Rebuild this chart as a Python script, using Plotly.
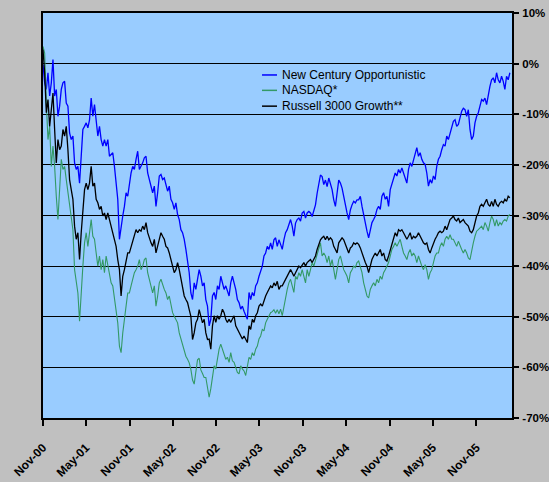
import plotly.graph_objects as go
import pandas as pd

start_date = "2000-11-01"

new_century = [
    -0.2, -3.8, -5.1, -1.8, -6.4, -3.8, 0.8, -6.4, -5.1, -10.4,
    -8.4, -5.1, -3.8, -3.5, -7.8, -8.4, -13.7, -15.0, -14.3, -19.6,
    -20.9, -20.3, -23.6, -17.6, -13.0, -12.4, -11.7, -12.7, -11.1, -6.8,
    -10.4, -8.1, -11.1, -14.3, -12.4, -15.0, -16.3, -15.0, -16.3, -15.0,
    -18.3, -18.0, -17.6, -20.3, -24.2, -26.8, -34.7, -32.1, -30.1, -28.2,
    -25.5, -26.2, -23.6, -21.6, -20.3, -20.9, -18.9, -17.3, -20.9, -20.3,
    -19.6, -18.6, -18.3, -21.6, -22.9, -24.2, -25.5, -24.2, -28.2, -25.5,
    -22.2, -21.9, -22.9, -22.6, -24.2, -25.2, -24.2, -26.8, -27.5, -28.8,
    -27.5, -29.8, -30.8, -32.8, -33.4, -34.7, -36.7, -39.0, -41.3, -45.3,
    -46.6, -43.3, -44.6, -42.6, -40.7, -42.0, -43.9, -43.3, -46.6, -47.9,
    -51.8, -50.5, -45.9, -45.2, -46.6, -43.9, -44.6, -42.0, -43.3, -44.6,
    -43.9, -45.2, -45.9, -43.3, -42.0, -43.3, -44.6, -46.6, -47.2, -48.5,
    -47.9, -48.9, -49.8, -50.5, -45.2, -46.6, -45.2, -45.9, -43.9, -43.3,
    -42.0, -40.7, -40.0, -38.0, -37.4, -36.1, -36.7, -35.4, -36.7, -34.8,
    -34.4, -36.1, -34.8, -35.7, -36.7, -34.8, -33.4, -32.8, -31.5, -30.8,
    -32.1, -34.1, -31.5, -30.8, -30.5, -31.1, -29.5, -29.2, -30.5, -29.5,
    -29.2, -29.5, -30.2, -28.9, -27.9, -25.6, -23.6, -22.0, -22.3, -23.9,
    -23.0, -24.3, -22.6, -23.6, -24.9, -26.9, -28.2, -25.6, -23.0, -23.6,
    -24.6, -26.2, -28.2, -29.5, -30.8, -28.9, -27.9, -27.2, -27.5, -26.9,
    -26.9,
    -26.2, -28.2, -30.1, -31.4, -33.1, -34.4, -32.8, -31.4, -30.8, -30.1,
    -28.8, -28.2, -28.8, -26.2, -25.5, -26.8, -26.2, -28.2, -24.9, -23.6,
    -22.9, -21.6, -22.2, -20.9, -21.6, -20.6, -21.6, -22.9, -23.6, -20.9,
    -19.6, -20.3, -18.9, -17.6, -16.6, -18.3, -17.6, -18.9, -19.6, -19.9,
    -21.6, -24.2, -22.9, -23.6, -22.2, -22.9, -20.3, -18.9, -18.3, -17.0,
    -16.0, -16.3, -14.3, -15.0, -13.7, -12.4, -11.4, -11.1, -12.4, -12.0,
    -10.4, -9.4, -8.8, -9.1, -10.4, -9.1, -13.0, -15.0, -14.3, -11.7,
    -10.4, -9.7, -8.4, -7.1, -7.4, -6.8, -8.1, -5.8, -4.5, -3.2,
    -2.8, -3.8, -1.8, -3.2, -3.8, -2.5, -3.5, -5.1, -2.5, -3.2,
    -1.8,
]

nasdaq = [
    3.4, 2.1, -7.8, -15.0, -12.4, -20.3, -16.3, -20.3, -26.2, -30.8,
    -24.9, -18.9, -20.9, -20.3, -22.9, -25.5, -28.2, -30.8, -32.8, -40.7,
    -42.6, -45.3, -50.9, -44.6, -40.0, -35.4, -33.4, -36.1, -32.8, -30.8,
    -34.1, -34.7, -37.4, -40.0, -38.0, -40.7, -38.7, -41.3, -38.0, -40.0,
    -41.3, -43.3, -43.9, -46.6, -49.2, -51.2, -55.8, -57.1, -53.2, -49.9,
    -47.9, -45.3, -45.3, -43.9, -42.6, -41.3, -40.7, -40.0, -38.7, -40.7,
    -40.0, -38.7, -38.4, -41.3, -42.6, -43.9, -45.3, -43.9, -47.9, -45.9,
    -43.3, -42.6, -43.9, -44.6, -45.3, -46.6, -45.9, -47.9, -49.2, -49.9,
    -50.5, -51.2, -53.2, -54.5, -55.8, -57.1, -57.8, -58.4, -59.1, -60.4,
    -62.5, -63.3, -60.5, -58.5, -58.2, -60.5, -61.2, -62.0, -62.0, -64.0,
    -65.9, -64.2, -61.6, -59.7, -60.3, -58.4, -56.4, -55.4, -56.4, -57.7,
    -58.4, -58.0, -59.0, -57.1, -58.7, -59.0, -60.3, -61.0, -61.3, -59.7,
    -60.3, -60.7, -61.6, -59.7, -58.0, -58.4, -57.1, -57.7, -56.4, -55.8,
    -54.4, -53.8, -52.5, -52.8, -51.2, -50.5, -49.9, -49.2, -49.0, -48.6,
    -49.3, -48.6, -49.4,
    -48.5, -49.8, -47.9, -45.9, -44.6, -43.3, -42.6, -43.9, -45.2, -42.0,
    -42.6, -41.3, -42.0, -40.7, -42.0, -43.3, -40.7, -42.0, -40.7, -39.3,
    -40.0, -38.7, -37.4, -36.1, -35.4, -38.0, -37.4, -38.0, -39.3, -38.0,
    -40.0, -38.7, -40.7, -42.6, -40.7, -38.7, -38.0, -39.3, -40.7, -41.3,
    -42.0, -43.3, -41.3, -40.7, -40.0, -40.3, -39.3, -39.0,
    -40.0, -41.3, -43.3, -44.6, -45.9, -46.3, -44.6, -43.9, -43.3, -43.9,
    -42.6, -43.3, -42.0, -42.6, -41.3, -40.7, -40.0, -39.3, -38.0, -36.7,
    -36.1, -35.4, -36.1, -35.4, -34.7, -36.1, -37.4, -38.0, -38.7, -37.4,
    -36.7, -38.0, -37.4, -38.0, -39.3, -38.0, -39.3, -40.0, -40.7, -39.7,
    -40.7, -42.6, -41.3, -40.7, -39.3, -38.0, -37.4, -37.4, -36.1, -35.4,
    -36.1, -34.7, -34.1, -34.7, -33.8, -34.7, -34.7, -35.4, -36.1, -35.1,
    -36.1, -36.7, -37.4, -36.7, -37.4, -38.4, -38.7, -36.7, -35.4, -34.1,
    -33.1, -32.8, -32.4, -32.1, -32.8, -31.4, -32.1, -33.1, -31.4, -30.1,
    -30.8, -32.1, -30.8, -32.1, -31.4, -31.8, -31.1, -30.8, -31.1, -30.1,
    -29.8,
]

russell = [
    2.8, -1.8, -9.7, -7.1, -12.4, -8.4, -5.8, -13.0, -19.6, -15.0,
    -17.0, -16.3, -13.0, -14.3, -12.4, -17.0, -22.9, -24.9, -26.8, -32.1,
    -34.7, -33.4, -38.7, -33.4, -28.2, -24.9, -23.6, -24.9, -23.6, -20.3,
    -24.2, -23.6, -26.8, -27.5, -28.8, -28.2, -30.1, -29.5, -30.8, -29.5,
    -30.8, -32.1, -33.4, -34.7, -36.1, -38.7, -40.7, -45.9, -42.0, -40.7,
    -38.7, -37.4, -37.4, -36.1, -35.4, -34.1, -32.8, -33.4, -32.8, -33.1,
    -32.1, -32.8, -31.4, -33.4, -34.7, -35.4, -36.1, -34.7, -37.4, -36.1,
    -34.7, -33.4, -34.1, -34.7, -36.1, -36.4, -37.4, -38.7, -40.0, -41.3,
    -40.7, -39.3, -40.7, -42.6, -43.9, -45.9, -46.6, -47.2, -48.6, -49.9,
    -54.5, -53.2, -51.2, -50.5, -48.6, -49.9, -51.2, -50.5, -53.2, -54.5,
    -54.4, -56.4, -51.8, -49.8, -51.1, -49.8, -50.5, -49.8, -48.5, -49.2,
    -50.5, -51.1, -50.5, -51.1, -50.5, -49.8, -51.8, -52.5, -53.1, -53.8,
    -54.4, -53.8, -54.4, -55.1, -51.8, -52.5, -50.5, -51.1, -49.8, -49.2,
    -47.9, -47.5, -47.9, -46.6, -45.9, -45.2, -44.6, -43.9, -44.3, -43.3,
    -43.9, -43.0, -44.6, -43.9, -43.9, -43.3, -42.6, -42.0, -41.3, -40.7,
    -41.3, -42.0, -41.3, -40.7, -40.0, -40.3, -39.7, -39.3, -40.0, -39.3,
    -39.0, -38.7, -39.3, -38.7, -38.0, -36.7, -35.7, -34.8, -34.4, -34.1,
    -34.8, -34.1, -34.8, -34.4, -34.8, -36.1, -36.7, -37.4, -35.4, -34.8,
    -34.4, -34.8, -35.7, -36.7, -37.4, -36.4, -36.1, -35.4, -35.7, -35.4,
    -35.7,
    -36.4, -37.4, -38.7, -39.3, -40.0, -41.3, -40.0, -38.7, -38.0, -37.4,
    -38.0, -37.4, -36.7, -38.0, -37.4, -38.7, -39.0, -38.0, -36.7, -35.4,
    -34.1, -33.4, -34.1, -32.8, -33.1, -32.8, -33.4, -34.1, -34.7, -34.1,
    -33.4, -34.7, -34.1, -34.4, -34.1, -33.4, -34.1, -34.7, -35.4, -35.7,
    -35.4, -36.7, -37.4, -36.4, -35.4, -34.7, -34.1, -33.4, -33.1, -33.4,
    -33.1, -32.1, -32.8, -31.8, -30.8, -30.5, -30.1, -30.8, -31.1, -30.5,
    -31.4, -31.1, -30.8, -31.4, -31.8, -32.1, -33.1, -33.4, -32.8, -31.4,
    -30.1, -29.5, -28.2, -27.8, -28.2, -27.5, -26.8, -27.8, -28.2, -27.2,
    -28.2, -26.8, -27.8, -28.2, -27.5, -27.2, -27.5, -26.8, -27.2, -26.2,
    -26.5,
]

series_names = ["New Century Opportunistic", "NASDAQ*", "Russell 3000 Growth**"]
series_colors = ["#0000ff", "#339966", "#000000"]
y_tick_values = [10, 0, -10, -20, -30, -40, -50, -60, -70]
x_tick_dates = ["2000-11-01", "2001-05-01", "2001-11-01", "2002-05-01", "2002-11-01",
                "2003-05-01", "2003-11-01", "2004-05-01", "2004-11-01", "2005-05-01",
                "2005-11-01"]
x_tick_labels = ["Nov-00", "May-01", "Nov-01", "May-02", "Nov-02", "May-03",
                 "Nov-03", "May-04", "Nov-04", "May-05", "Nov-05"]

dates = pd.date_range(start_date, periods=len(new_century), freq="7D")
series_values = [new_century, nasdaq, russell]
widths = [1.3, 1.1, 1.3]

fig = go.Figure()
for name, vals, col, w in zip(series_names, series_values, series_colors, widths):
    fig.add_trace(go.Scatter(x=dates[:len(vals)], y=vals, mode="lines", name=name,
                             line=dict(color=col, width=w), showlegend=False))

# legend drawn as text + sample lines (paper coordinates)
leg_y = [0.847, 0.809, 0.770]
for name, col, yy in zip(series_names, series_colors, leg_y):
    fig.add_shape(type="line", xref="paper", yref="paper", x0=0.467, x1=0.499,
                  y0=yy, y1=yy, line=dict(color=col, width=1.5))
    fig.add_annotation(xref="paper", yref="paper", x=0.505, y=yy, text=name,
                       showarrow=False, xanchor="left", yanchor="middle",
                       font=dict(size=12, color="black"))

fig.update_layout(
    width=549, height=482, autosize=False,
    margin=dict(l=43, r=37, t=13, b=64, pad=0),
    paper_bgcolor="#c0c0c0", plot_bgcolor="#99ccff",
    font=dict(family="Liberation Sans, Arial, sans-serif", color="black", size=12),
    showlegend=False,
    xaxis=dict(type="date", range=["2000-11-01", "2006-03-31"], automargin=False,
               tickmode="array", tickvals=x_tick_dates,
               ticktext=["<b>%s</b>" % t for t in x_tick_labels], tickangle=-45,
               ticks="outside", ticklen=6, tickwidth=1.5, tickcolor="black",
               ticklabelstandoff=10,
               showline=True, linecolor="black", linewidth=2, mirror=True,
               showgrid=False, zeroline=False,
               tickfont=dict(size=12, color="black")),
    yaxis=dict(side="right", range=[-70, 10], automargin=False,
               tickmode="array", tickvals=y_tick_values,
               ticktext=["<b>%d%%</b>" % v for v in y_tick_values],
               ticks="outside", ticklen=5, tickwidth=1.5, tickcolor="black",
               ticklabelstandoff=1,
               showgrid=True, gridcolor="black", gridwidth=1, zeroline=False,
               showline=True, linecolor="black", linewidth=2, mirror=True,
               tickfont=dict(size=11.5, color="black")),
)

fig.write_html("out.html")
